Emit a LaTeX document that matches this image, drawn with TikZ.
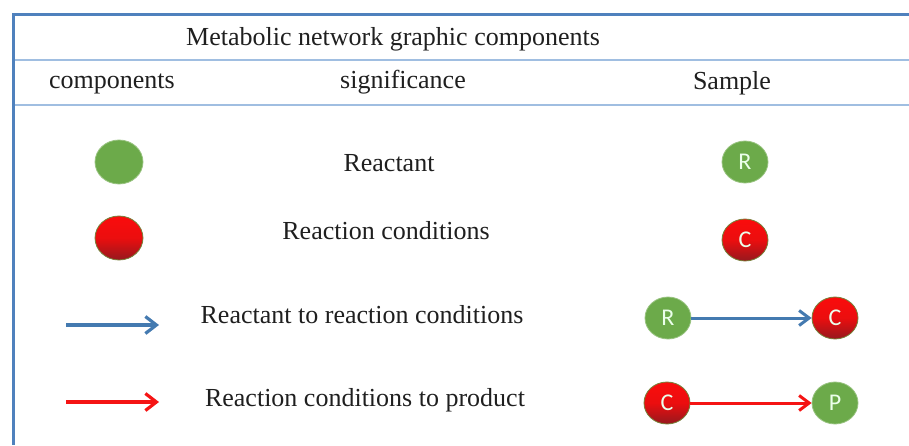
\documentclass[tikz,border=0pt]{standalone}
\usepackage{fontspec}
\setmainfont{Liberation Serif}
\newfontfamily\letterfont{Carlito}
\usetikzlibrary{arrows.meta}
\usetikzlibrary{shapes.geometric}
\definecolor{frameblue}{RGB}{79,129,189}
\definecolor{ruleblue}{RGB}{160,190,225}
\definecolor{reacgreen}{RGB}{108,170,74}
\definecolor{condred}{RGB}{250,12,12}
\definecolor{conddark}{RGB}{150,24,30}
\definecolor{condrim}{RGB}{120,130,60}
\definecolor{arrblue}{RGB}{68,122,176}
\definecolor{arrred}{RGB}{245,20,20}
\tikzset{
  txt/.style={anchor=base, font=\fontsize{26}{26}\selectfont, text=black!88},
  reac/.style={ellipse, fill=reacgreen, draw=reacgreen!70!white, line width=0.8pt,
    minimum width=46, minimum height=42, inner sep=0pt, text=white!92!green,
    font=\letterfont\fontsize{24}{24}\selectfont},
  cond/.style={reac, draw=condrim, top color=condred, bottom color=conddark,
    middle color=condred!85!conddark},
  bluearr/.style={arrblue, line width=3.2pt, -{Straight Barb[length=11pt,width=17pt]}},
  redarr/.style={arrred, line width=3.2pt, -{Straight Barb[length=11pt,width=17pt]}},
  smallhead/.style={line width=3pt, -{Straight Barb[length=10pt,width=15pt]}},
}

\begin{document}
\begin{tikzpicture}[x=1pt,y=-1pt]
    \useasboundingbox (0,0) rectangle (909,445);

    % table frame
    \draw[ruleblue, line width=2.2pt] (13,60) -- (909,60);
    \draw[ruleblue, line width=2.2pt] (13,105) -- (909,105);
    \draw[frameblue, line width=3pt] (909,14) -- (13,14) -- (13,445);

    \node[txt] (title) at (393,45) {Metabolic network graphic components};
    \node[txt] (hcomp) at (112,88) {components};
    \node[txt] (hsig) at (403,88) {significance};
    \node[txt] (hsamp) at (732,89) {Sample};

    % legend column
    \node[reac, minimum width=48, minimum height=44] (g) at (119,162) {};
    \node[cond, minimum width=48, minimum height=44] (r) at (119,238) {};
    \coordinate (b1) at (66,325);
    \coordinate (b2) at (159,325);
    \coordinate (r1) at (66,402);
    \coordinate (r2) at (159,402);
    \draw[bluearr] (b1) -- (b2);
    \draw[redarr] (r1) -- (r2);

    \node[txt] (s1) at (389,171) {Reactant};
    \node[txt] (s2) at (386,239) {Reaction conditions};
    \node[txt] (s3) at (362,323) {Reactant to reaction conditions};
    \node[txt] (s4) at (365,406) {Reaction conditions to product};

    % samples
    \node[reac] (R) at (745,162) {R};
    \node[cond] (C) at (745,240) {C};
    \node[reac] (R2) at (668,318) {R};
    \node[cond] (C2) at (835,318) {C};
    \node[cond] (C3) at (667,403) {C};
    \node[reac] (P) at (835,403) {P};

    \draw[bluearr, smallhead] (R2) -- (C2);
    \draw[redarr, smallhead] (C3) -- (P);
\end{tikzpicture}
\end{document}
